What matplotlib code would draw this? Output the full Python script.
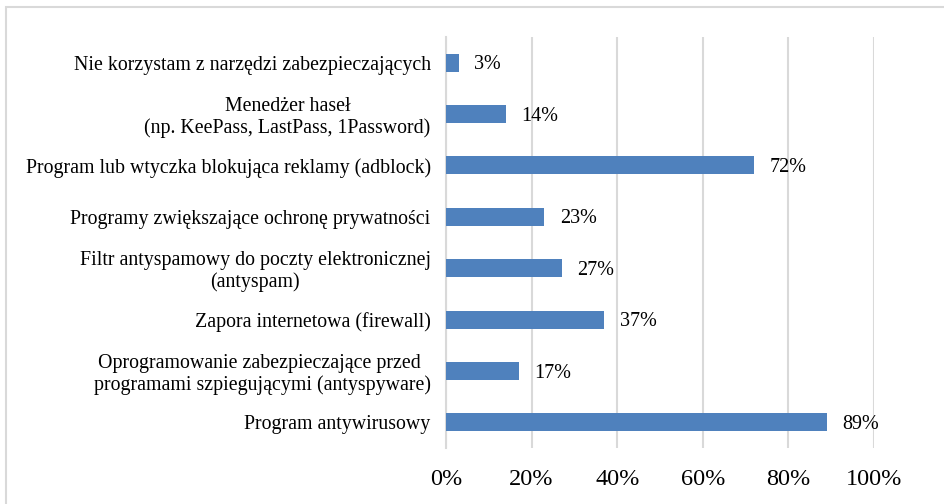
import matplotlib
matplotlib.use("Agg")
import matplotlib.pyplot as plt
from matplotlib.patches import Rectangle
from matplotlib.ticker import FuncFormatter

categories = [
    "Program antywirusowy",
    "Oprogramowanie zabezpieczające przed \nprogramami szpiegującymi (antyspyware)",
    "Zapora internetowa (firewall)",
    "Filtr antyspamowy do poczty elektronicznej\n(antyspam)",
    "Programy zwiększające ochronę prywatności",
    "Program lub wtyczka blokująca reklamy (adblock)",
    "Menedżer haseł\n(np. KeePass, LastPass, 1Password)",
    "Nie korzystam z narzędzi zabezpieczających",
]
values = [89, 17, 37, 27, 23, 72, 14, 3]
x_ticks = [0, 20, 40, 60, 80, 100]

BAR_COLOR = "#4F81BD"
GRID_COLOR = "#D9D9D9"

plt.rcParams["font.family"] = ["Liberation Serif", "DejaVu Serif"]

fig = plt.figure(figsize=(9.44, 5.04), dpi=100)
ax = fig.add_axes([446 / 944, 56 / 504, 428 / 944, 411 / 504])

y = list(range(len(categories)))
ax.barh(y, values, height=0.35, color=BAR_COLOR, zorder=3)

for yi, v in zip(y, values):
    ax.annotate(f"{v}%", xy=(v, yi), xytext=(11, -1.5), textcoords="offset points",
                ha="left", va="center", fontsize=14.5, color="black")

ax.set_xlim(0, 100)
ax.set_ylim(-0.5, len(categories) - 0.5)
ax.set_xticks(x_ticks)
ax.xaxis.set_major_formatter(FuncFormatter(lambda v, p: f"{v:.0f}%"))
ax.set_yticks(y)
ax.set_yticklabels(categories, fontsize=14.3, ma="center", linespacing=1.15)

ax.grid(axis="x", color=GRID_COLOR, linewidth=1.5, zorder=0)
for side in ["top", "right", "bottom"]:
    ax.spines[side].set_visible(False)
ax.spines["left"].set_color(GRID_COLOR)
ax.spines["left"].set_linewidth(1.5)
ax.tick_params(axis="both", length=0)
ax.tick_params(axis="x", labelsize=17.5, pad=15)
ax.tick_params(axis="y", pad=11)

fig.patches.append(Rectangle((6 / 944, -0.05), 1.1, (497 / 504) + 0.05,
                             transform=fig.transFigure, fill=False,
                             edgecolor="#D9D9D9", linewidth=1.5))

fig.savefig("out.png", dpi=100)
